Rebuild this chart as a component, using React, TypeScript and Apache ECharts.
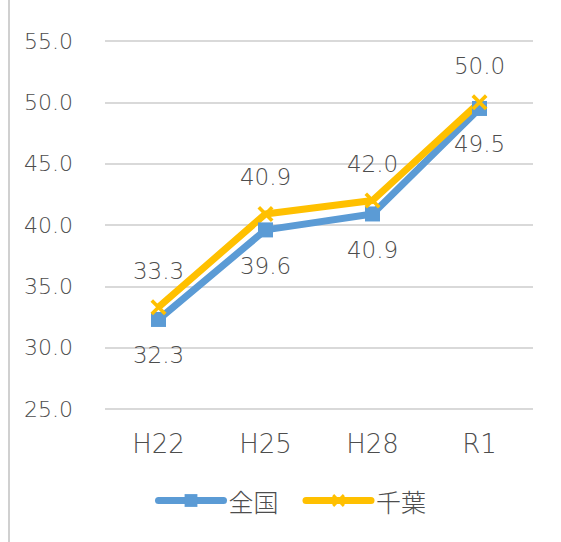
import React, { useEffect, useRef } from "react";
import * as echarts from "echarts";

// Survey years and the two series (percent)
const categories = ["H22", "H25", "H28", "R1"];
const nationalValues = [32.3, 39.6, 40.9, 49.5];
const chibaValues = [33.3, 40.9, 42.0, 50.0];
const seriesNames = ["全国", "千葉"];

const TEXT = "#4d4d4d";
const GRID = "#D9D9D9";
const BLUE = "#5B9BD5";
const GOLD = "#FFC000";
const NUM_FONT = "'DejaVu Sans', 'Liberation Sans', sans-serif";
const CJK_FONT = "'Noto Sans CJK JP', sans-serif";
const NUM_WEIGHT = 300;

// Filled "x" cross used as the marker of the second series
const CROSS =
  "path://M0,1.6 L1.6,0 L5,3.4 L8.4,0 L10,1.6 L6.6,5 L10,8.4 L8.4,10 L5,6.6 L1.6,10 L0,8.4 L3.4,5 Z";

export default function App() {
  const ref = useRef<HTMLDivElement>(null);

  useEffect(() => {
    document.body.style.margin = "0";
    if (!ref.current) return;
    const chart = echarts.init(ref.current, null, { renderer: "svg" });

    const label = (position: "top" | "bottom") => ({
      show: true,
      position,
      distance: 17,
      color: TEXT,
      fontSize: 23,
      fontWeight: NUM_WEIGHT,
      fontFamily: NUM_FONT,
      formatter: (p: any) => Number(p.value).toFixed(1),
    });

    chart.setOption({
      animation: false,
      backgroundColor: "#ffffff",
      grid: { left: 105, right: 28, top: 41, bottom: 133, containLabel: false },
      xAxis: {
        type: "category",
        data: categories,
        boundaryGap: true,
        axisLine: { show: false },
        axisTick: { show: false },
        axisLabel: {
          color: TEXT,
          fontSize: 26,
          fontWeight: NUM_WEIGHT,
          fontFamily: NUM_FONT,
          margin: 22,
        },
      },
      yAxis: {
        type: "value",
        min: 25,
        max: 55,
        interval: 5,
        axisLine: { show: false },
        axisTick: { show: false },
        axisLabel: {
          color: TEXT,
          fontSize: 22,
          fontWeight: NUM_WEIGHT,
          fontFamily: NUM_FONT,
          margin: 32,
          formatter: (v: number) => v.toFixed(1),
        },
        splitLine: { lineStyle: { color: GRID, width: 2 } },
      },
      legend: {
        left: 155,
        top: 488,
        padding: 0,
        itemWidth: 65,
        itemHeight: 16,
        itemGap: 24,
        lineStyle: { width: 7, cap: "round" },
        textStyle: { color: TEXT, fontSize: 25, fontFamily: CJK_FONT, fontWeight: 300 },
        data: seriesNames,
      },
      series: [
        {
          name: seriesNames[0],
          type: "line",
          data: nationalValues,
          symbol: "rect",
          symbolSize: 15,
          lineStyle: { color: BLUE, width: 7 },
          itemStyle: { color: BLUE },
          label: label("bottom"),
        },
        {
          name: seriesNames[1],
          type: "line",
          data: chibaValues,
          symbol: CROSS,
          symbolSize: 16,
          lineStyle: { color: GOLD, width: 7 },
          itemStyle: { color: GOLD },
          label: label("top"),
        },
      ],
      graphic: [
        {
          type: "line",
          shape: { x1: 9, y1: 0, x2: 9, y2: 542 },
          style: { stroke: "#D0D0D0", lineWidth: 2 },
        },
      ],
    });

    return () => chart.dispose();
  }, []);

  return <div ref={ref} style={{ width: 561, height: 542 }} />;
}
